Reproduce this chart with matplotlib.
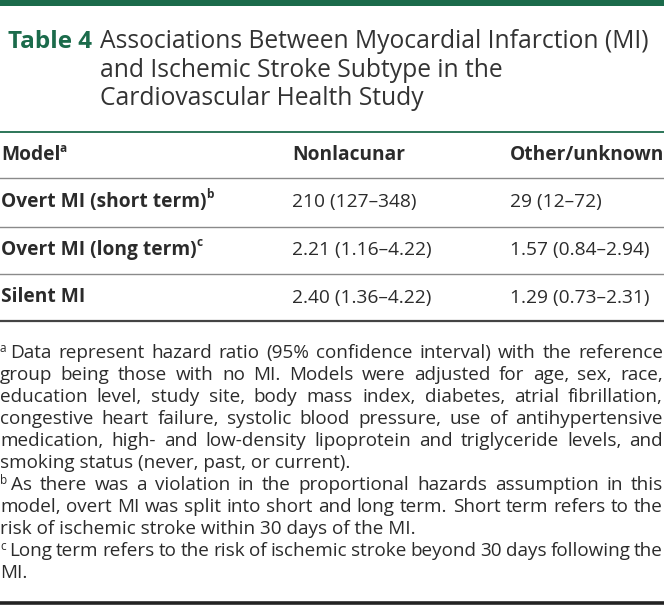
import matplotlib
matplotlib.use("Agg")
import matplotlib.pyplot as plt

# table content
title_tag = "Table 4"
title_lines = ["Associations Between Myocardial Infarction (MI)",
               "and Ischemic Stroke Subtype in the",
               "Cardiovascular Health Study"]
col_heads = ["Model", "Nonlacunar", "Other/unknown"]
models = ["Overt MI (short term)", "Overt MI (long term)", "Silent MI"]
model_notes = ["b", "c", ""]
nonlacunar = ["210 (127–348)", "2.21 (1.16–4.22)", "2.40 (1.36–4.22)"]
other_unknown = ["29 (12–72)", "1.57 (0.84–2.94)", "1.29 (0.73–2.31)"]
foot_marks = ["a", "b", "c"]
foot_lines = [
    ["Data represent hazard ratio (95% confidence interval) with the reference",
     "group being those with no MI. Models were adjusted for age, sex, race,",
     "education level, study site, body mass index, diabetes, atrial fibrillation,",
     "congestive heart failure, systolic blood pressure, use of antihypertensive",
     "medication, high- and low-density lipoprotein and triglyceride levels, and",
     "smoking status (never, past, or current)."],
    ["As there was a violation in the proportional hazards assumption in this",
     "model, overt MI was split into short and long term. Short term refers to the",
     "risk of ischemic stroke within 30 days of the MI."],
    ["Long term refers to the risk of ischemic stroke beyond 30 days following the",
     "MI."],
]

green = "#1b6b4b"
ink = "#2b2b2b"
font = "Open Sans"

W, H = 664, 605
fig = plt.figure(figsize=(W / 100, H / 100), dpi=100)
ax = fig.add_axes([0, 0, 1, 1])
ax.set_xlim(0, W)
ax.set_ylim(H, 0)
ax.axis("off")
r = fig.canvas.get_renderer()


def width(t):
    return t.get_window_extent(r).width


def put(x, y, s, size, weight="normal", color=ink):
    return ax.text(x, y, s, fontsize=size, fontweight=weight, color=color,
                   family=font, va="baseline", ha="left")


def put_sup(x, y, s, sup, size, weight="normal"):
    t = put(x, y, s, size, weight)
    if sup:
        put(x + width(t) - 0.5, y - 8, sup, size * 0.62, weight)


# top bar and title
ax.axhspan(0, 5.5, color=green, lw=0)
put(8, 48, title_tag, 17.5, "bold", green)
for i, line in enumerate(title_lines):
    put(100, 48 + i * 28.7, line, 17.7, color="#333333")

# rules
ax.axhline(132, color=green, lw=1.3)
for y in [178, 226.5, 274]:
    ax.axhline(y, color="#8a8a8a", lw=1.0)
ax.axhline(320.5, color="#444444", lw=1.6)
ax.axhline(603, color="#222222", lw=2.6)

# header and body
tsz = 13.8
col_x = [1, 292, 510]
put_sup(col_x[0], 160, col_heads[0], "a", tsz, "bold")
put(col_x[1], 160, col_heads[1], tsz, "bold")
put(col_x[2], 160, col_heads[2], tsz, "bold")
for i in range(len(models)):
    yb = 206.5 + i * 48
    put_sup(col_x[0], yb, models[i], model_notes[i], tsz, "bold")
    put(col_x[1], yb, nonlacunar[i], tsz)
    put(col_x[2], yb, other_unknown[i], tsz)

# footnotes, justified
fs = 13.6
right = 663
y = 358
for mark, lines in zip(foot_marks, foot_lines):
    m = put(0, y - 6.5, mark, 8.5)
    indent = width(m) + 3.5
    for j, line in enumerate(lines):
        x0 = indent if j == 0 else 0
        words = line.split(" ")
        last = j == len(lines) - 1
        if last:
            put(x0, y, line, fs)
        else:
            ts = [put(0, y, w, fs) for w in words]
            ws = [width(t) for t in ts]
            gap = (right - x0 - sum(ws)) / (len(words) - 1)
            x = x0
            for t, w in zip(ts, ws):
                t.set_x(x)
                x += w + gap
        y += 22

fig.savefig("out.png", dpi=100)
